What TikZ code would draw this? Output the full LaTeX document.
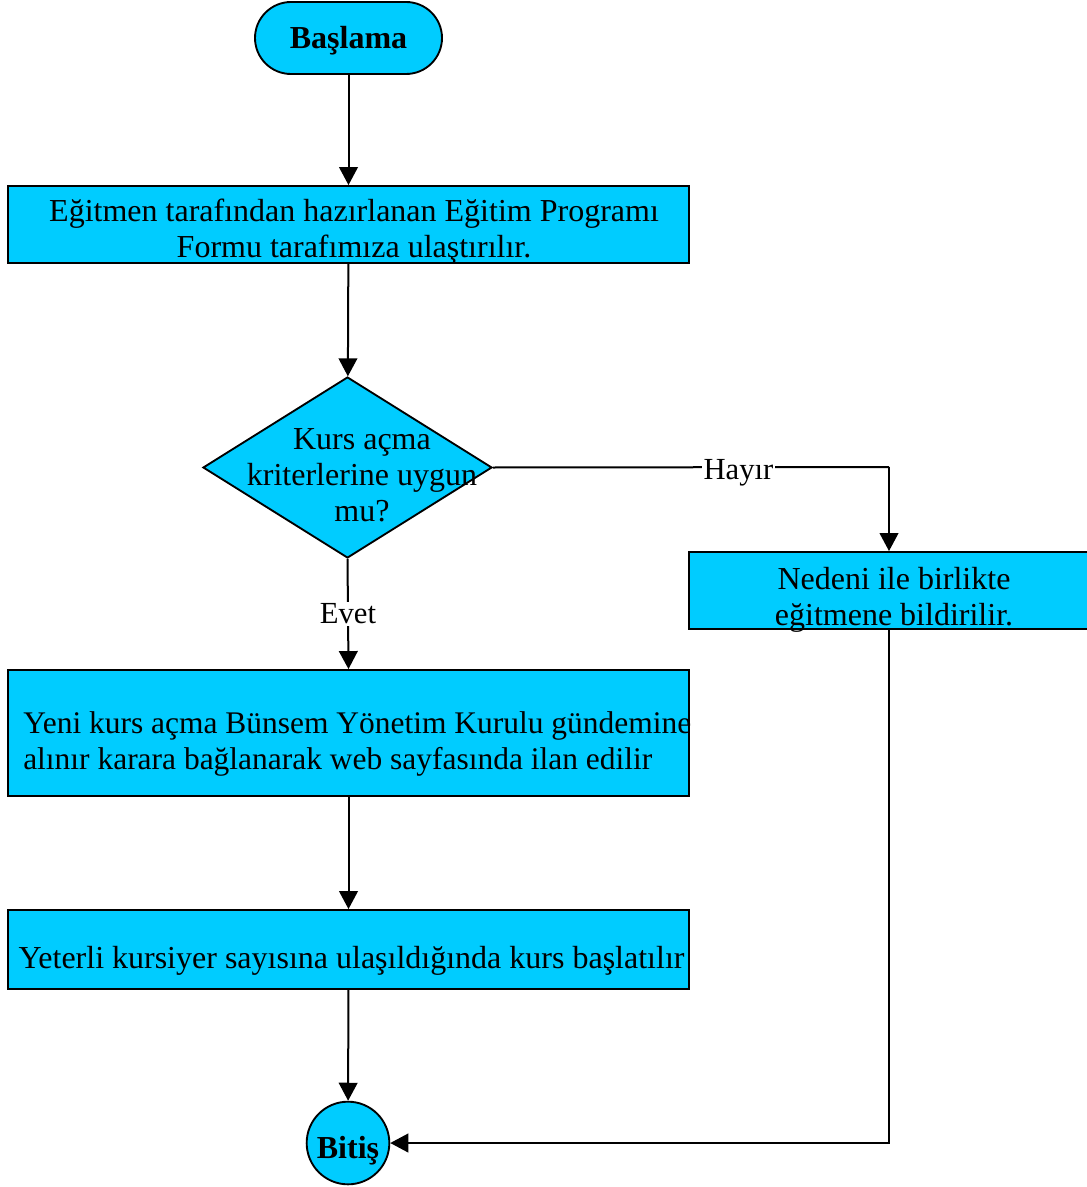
\documentclass[tikz,border=0pt]{standalone}
\usepackage{fontspec}
\setmainfont{Liberation Serif}
\usetikzlibrary{arrows.meta,shapes.geometric}
\definecolor{boxcyan}{RGB}{0,204,255}
\begin{document}
\begin{tikzpicture}[x=0.75pt,y=-0.75pt,
  txt/.style={font=\fontsize{24}{27}\selectfont,inner sep=0pt},
  shapebox/.style={draw=black,line width=1.4pt,fill=boxcyan,inner sep=0pt},
  arr/.style={draw=black,line width=1.5pt,-{Triangle[length=13.5pt,width=14pt]}},
  conn/.style={draw=black,line width=1.5pt},
  lbl/.style={fill=white,font=\fontsize{23}{26}\selectfont,inner sep=1pt}]
\useasboundingbox (0,0) rectangle (1086,1187);
% shapes
\node[shapebox,rounded corners=27pt,minimum width=140.25pt,minimum height=54pt,font=\fontsize{24}{27}\selectfont\bfseries] (start) at (348.5,38) {\raisebox{-2pt}[\height][\depth]{Başlama}};
\node[shapebox,minimum width=510.75pt,minimum height=57.75pt] (b1) at (348.5,224.5) {};
\node[shapebox,diamond,minimum width=216.75pt,minimum height=135.75pt] (dec) at (347.5,467.5) {};
\node[shapebox,minimum width=308.25pt,minimum height=57.75pt] (ned) at (894.5,590.5) {};
\node[shapebox,minimum width=510.75pt,minimum height=94.5pt] (b3) at (348.5,733) {};
\node[shapebox,minimum width=510.75pt,minimum height=59.25pt] (b4) at (348.5,949.5) {};
\node[shapebox,circle,minimum size=62pt,font=\fontsize{24}{27}\selectfont\bfseries] (end) at (348,1143) {\raisebox{-6pt}[\height][\depth]{Bitiş}};
% texts
\node[txt,align=center] (b1t) at (354,232) {Eğitmen tarafından hazırlanan Eğitim Programı\\Formu tarafımıza ulaştırılır.};
\node[txt,align=center] (dect) at (362,475) {Kurs açma\\kriterlerine uygun\\mu?};
\node[txt,align=center] (nedt) at (894,600) {Nedeni ile birlikte\\eğitmene bildirilir.};
\node[txt,font=\fontsize{23.6}{27}\selectfont,align=left,anchor=west] (b3t) at (23,744) {Yeni kurs açma Bünsem Yönetim Kurulu gündemine\\alınır karara bağlanarak web sayfasında ilan edilir};
\node[txt] (b4t) at (351.5,961) {Yeterli kursiyer sayısına ulaşıldığında kurs başlatılır};
% connectors
\coordinate (hx) at (889,467);
\draw[arr] (start) -- (b1);
\draw[arr] (b1) -- (dec);
\draw[conn] (dec.east) -- node[lbl,pos=0.62,yshift=-4pt] (hay) {Hayır} (hx);
\draw[arr] (hx) -- (hx |- ned.north);
\draw[arr] (dec.south) -- node[lbl,pos=0.5] (evet) {Evet} (b3.north);
\draw[arr] (b3) -- (b4);
\draw[arr] (b4) -- (end);
\draw[arr] (hx |- ned.south) -- (hx |- end.east) -- (end.east);
\end{tikzpicture}
\end{document}
